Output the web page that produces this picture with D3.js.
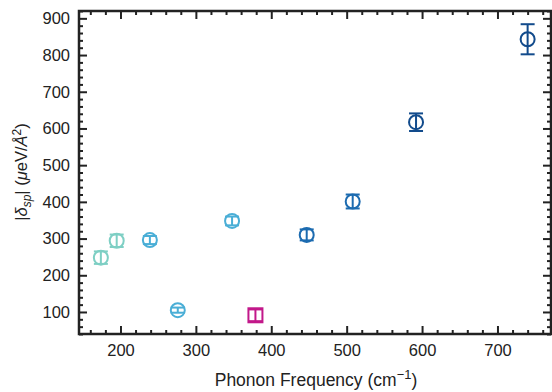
<!DOCTYPE html>
<html>
<head>
<meta charset="utf-8">
<script src="https://cdn.jsdelivr.net/npm/d3@7"></script>
<style>
  body { margin: 0; background: #fff; }
  svg { display: block; font-family: "Liberation Sans", Arial, sans-serif; }
</style>
</head>
<body>
<div id="content"></div>
<script>
// data
var freq   = [174, 195, 239, 276, 348, 379, 447, 508, 592, 740];
var delta  = [248, 294, 296, 105, 348,  91, 310, 401, 617, 843];
var err    = [ 17,  17,  11,   7,  12,  16,  15,  19,  24,  41];
var shape  = ["circle","circle","circle","circle","circle","square","circle","circle","circle","circle"];
var colors = ["#7ecfc4","#7ecfc4","#4aaed6","#4aaed6","#4aaed6","#c2188a","#1c6bb0","#1c6bb0","#124b8c","#124b8c"];
var xTicks = [200, 300, 400, 500, 600, 700];
var yTicks = [100, 200, 300, 400, 500, 600, 700, 800, 900];

var W = 552, H = 392;
var L = 79, R = 551, T = 11, B = 334;
var ink = "#222";

var x = d3.scaleLinear().domain([145, 771]).range([L, R]);
var y = d3.scaleLinear().domain([40, 920]).range([B, T]);

var xMinor = d3.range(160, 771, 20).filter(function(v){ return xTicks.indexOf(v) < 0; });
var yMinor = d3.range(40, 921, 20).filter(function(v){ return yTicks.indexOf(v) < 0; });

var svg = d3.select("#content").append("svg")
    .attr("width", W)
    .attr("height", H);

function styleAxis(g) {
  g.select(".domain").remove();
  g.selectAll("line").attr("stroke", ink).attr("stroke-width", 2);
  g.selectAll("text").attr("fill", ink).style("font-size", "16.5px").style("font-family", "Liberation Sans, Arial, sans-serif");
}

// major ticks with labels
svg.append("g").attr("transform", "translate(0," + B + ")")
  .call(d3.axisBottom(x).tickValues(xTicks).tickSize(-8).tickSizeOuter(0).tickPadding(10))
  .call(styleAxis);
svg.append("g").attr("transform", "translate(" + L + ",0)")
  .call(d3.axisLeft(y).tickValues(yTicks).tickSize(-8).tickSizeOuter(0).tickPadding(9))
  .call(styleAxis);
// mirrored majors
svg.append("g").attr("transform", "translate(0," + T + ")")
  .call(d3.axisTop(x).tickValues(xTicks).tickSize(-8).tickSizeOuter(0).tickFormat(""))
  .call(styleAxis);
svg.append("g").attr("transform", "translate(" + R + ",0)")
  .call(d3.axisRight(y).tickValues(yTicks).tickSize(-8).tickSizeOuter(0).tickFormat(""))
  .call(styleAxis);
// minor ticks
svg.append("g").attr("transform", "translate(0," + B + ")")
  .call(d3.axisBottom(x).tickValues(xMinor).tickSize(-4).tickSizeOuter(0).tickFormat(""))
  .call(styleAxis);
svg.append("g").attr("transform", "translate(0," + T + ")")
  .call(d3.axisTop(x).tickValues(xMinor).tickSize(-4).tickSizeOuter(0).tickFormat(""))
  .call(styleAxis);
svg.append("g").attr("transform", "translate(" + L + ",0)")
  .call(d3.axisLeft(y).tickValues(yMinor).tickSize(-4).tickSizeOuter(0).tickFormat(""))
  .call(styleAxis);
svg.append("g").attr("transform", "translate(" + R + ",0)")
  .call(d3.axisRight(y).tickValues(yMinor).tickSize(-4).tickSizeOuter(0).tickFormat(""))
  .call(styleAxis);

// frame
svg.append("rect")
  .attr("x", L).attr("y", T)
  .attr("width", R - L).attr("height", B - T)
  .attr("fill", "none").attr("stroke", ink).attr("stroke-width", 2.5);

// error bars + markers
var pts = svg.append("g").selectAll("g")
  .data(freq.map(function(f, i){ return {x: f, y: delta[i], e: err[i], s: shape[i], c: colors[i]}; }))
  .enter().append("g");

pts.append("line")
  .attr("x1", function(d){ return x(d.x); })
  .attr("x2", function(d){ return x(d.x); })
  .attr("y1", function(d){ return y(d.y - d.e); })
  .attr("y2", function(d){ return y(d.y + d.e); })
  .attr("stroke", function(d){ return d.c; }).attr("stroke-width", 2);
[-1, 1].forEach(function(sgn){
  pts.append("line")
    .attr("x1", function(d){ return x(d.x) - 7; })
    .attr("x2", function(d){ return x(d.x) + 7; })
    .attr("y1", function(d){ return y(d.y + sgn * d.e); })
    .attr("y2", function(d){ return y(d.y + sgn * d.e); })
    .attr("stroke", function(d){ return d.c; }).attr("stroke-width", 2);
});
pts.filter(function(d){ return d.s == "circle"; }).append("circle")
  .attr("cx", function(d){ return x(d.x); })
  .attr("cy", function(d){ return y(d.y); })
  .attr("r", 7)
  .attr("fill", "none")
  .attr("stroke", function(d){ return d.c; }).attr("stroke-width", 2);
pts.filter(function(d){ return d.s == "square"; }).append("rect")
  .attr("x", function(d){ return x(d.x) - 7; })
  .attr("y", function(d){ return y(d.y) - 7; })
  .attr("width", 14).attr("height", 14)
  .attr("fill", "none")
  .attr("stroke", function(d){ return d.c; }).attr("stroke-width", 2);

// axis titles
var xt = svg.append("text")
  .attr("x", (L + R) / 2 + 1).attr("y", 386)
  .attr("text-anchor", "middle")
  .attr("fill", ink).style("font-size", "17.5px");
xt.append("tspan").text("Phonon Frequency (cm");
xt.append("tspan").attr("dy", -7).style("font-size", "13px").text("\u22121");
xt.append("tspan").attr("dy", 7).text(")");

var yt = svg.append("text")
  .attr("transform", "translate(27,172) rotate(-90)")
  .attr("text-anchor", "middle")
  .attr("fill", ink).style("font-size", "16.5px");
yt.append("tspan").text("|");
yt.append("tspan").style("font-style", "italic").text("\u03b4");
yt.append("tspan").attr("dy", 4).style("font-size", "12px").style("font-style", "italic").text("sp");
yt.append("tspan").attr("dy", -4).text("| (");
yt.append("tspan").style("font-style", "italic").text("\u03bc");
yt.append("tspan").text("eV/");
yt.append("tspan").style("font-style", "italic").text("\u00c5");
yt.append("tspan").attr("dy", -6).style("font-size", "12px").text("2");
yt.append("tspan").attr("dy", 6).text(")");
</script>
</body>
</html>
